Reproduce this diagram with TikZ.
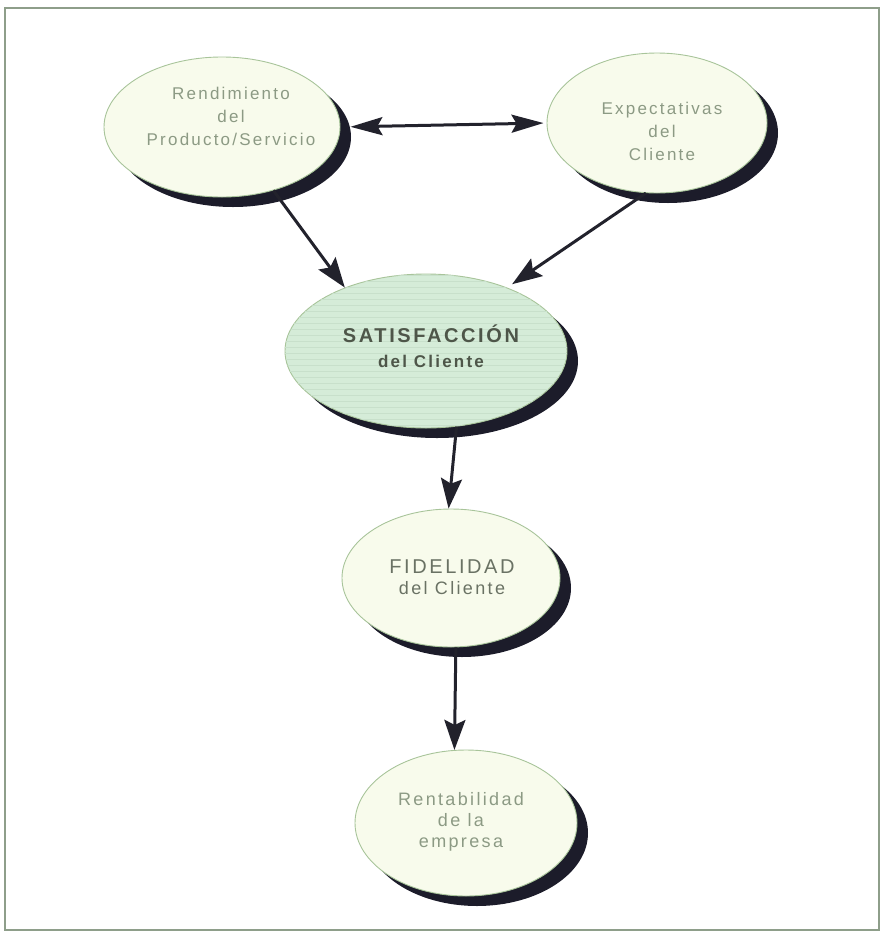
\documentclass[tikz,border=0pt]{standalone}
\usepackage{fontspec}
\setmainfont{Liberation Sans}
\newfontfamily\trackfont[LetterSpace=13]{Liberation Sans}
\usetikzlibrary{shapes.geometric,arrows.meta,patterns.meta}
\definecolor{framecol}{HTML}{8E9E8A}
\definecolor{edgecol}{HTML}{A8C49A}
\definecolor{ellfill}{HTML}{F8FBEC}
\definecolor{satfill}{HTML}{D5ECD8}
\definecolor{satline}{HTML}{C8E0CB}
\definecolor{shadowcol}{HTML}{1C1C2A}
\definecolor{txtlight}{HTML}{8C9A84}
\definecolor{txtmid}{HTML}{6A7264}
\definecolor{txtdark}{HTML}{4E5649}
\definecolor{arrowcol}{HTML}{22222C}
\begin{document}
\begin{tikzpicture}[x=1pt,y=-1pt,
  bubble/.style={ellipse, draw=edgecol, line width=0.9pt, fill=ellfill, inner sep=0pt,
    preaction={fill=shadowcol, transform canvas={xshift=11pt,yshift=-10pt}}},
  lbl/.style={align=center, inner sep=0pt, text=txtlight,
    font=\trackfont\fontsize{17}{23}\selectfont},
  conn/.style={draw=arrowcol, line width=3pt,
    -{Stealth[length=30pt,width=21pt,inset=5pt]}},
]
\useasboundingbox (0,0) rectangle (884,935);
\draw[framecol, line width=1.5pt] (5,8) rectangle (879,930);

\node[bubble, minimum width=236pt, minimum height=140pt] (rend) at (222,127) {};
\node[bubble, minimum width=220pt, minimum height=140pt] (expe) at (657,123) {};
\node[bubble, minimum width=282pt, minimum height=154pt, fill=satfill,
  postaction={pattern={Lines[angle=0,distance=6pt,line width=0.6pt]}, pattern color=satline}]
  (satis) at (426,351) {};
\node[bubble, minimum width=218pt, minimum height=138pt] (fid) at (451,578) {};
\node[bubble, minimum width=222pt, minimum height=146pt] (rent) at (466,823) {};

\node[lbl] (rendt) at (231,116) {Rendimiento\\del\\Producto/Servicio};
\node[lbl] (expet) at (662,131) {Expectativas\\del\\Cliente};
\node[lbl, text=txtdark, font=\trackfont\bfseries\fontsize{20}{25}\selectfont] (satist) at (431,346)
  {SATISFACCIÓN\\{\fontsize{17}{25}\selectfont del Cliente}};
\node[lbl, text=txtmid, font=\trackfont\fontsize{20}{21}\selectfont] (fidt) at (452,577)
  {FIDELIDAD\\{\fontsize{18}{21}\selectfont del Cliente}};
\node[lbl, font=\trackfont\fontsize{18}{21}\selectfont] (rentt) at (461,822) {Rentabilidad\\de la\\empresa};

\draw[conn, {Stealth[length=32pt,width=18pt,inset=5pt]}-{Stealth[length=32pt,width=18pt,inset=5pt]},
  shorten <=10pt, shorten >=3pt] (rend.east) -- (expe.west);
\draw[conn] (rend.-51) -- (satis.142);
\draw[conn, shorten >=6pt] (expe.261) -- (satis.38);
\draw[conn] (satis.-68) -- (fid.92);
\draw[conn] (fid.-86) -- (rent.99);
\end{tikzpicture}
\end{document}
